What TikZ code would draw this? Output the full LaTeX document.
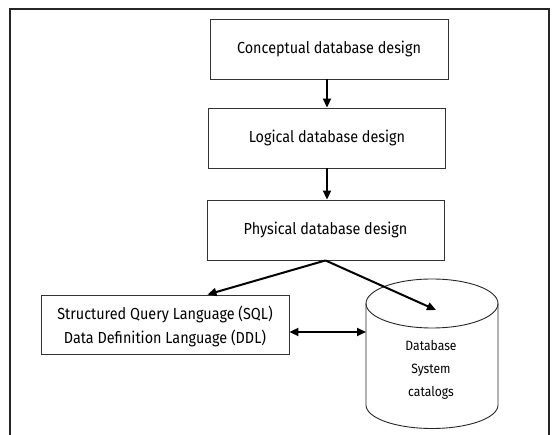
\documentclass[tikz,border=0pt]{standalone}
\usepackage{fontspec}
\setmainfont[FakeStretch=0.9]{Fira Sans}
\usetikzlibrary{arrows.meta}
\tikzset{
  frameline/.style={line width=2pt, draw=black!85},
  stagebox/.style={draw=black!80, line width=0.9pt, minimum height=60pt, inner sep=0pt, font=\fontsize{16}{19}\selectfont},
  flow/.style={line width=2pt, -{Triangle[length=9pt,width=8pt]}},
  twoway/.style={line width=2pt, {Triangle[length=9pt,width=8pt]}-{Triangle[length=9pt,width=8pt]}},
  drum/.style={draw=black!85, line width=0.9pt},
}
\begin{document}
\begin{tikzpicture}[x=1pt,y=-1pt]
\useasboundingbox (0,0) rectangle (558,435);
% outer frame, open at the bottom edge
\draw[frameline] (10,435) -- (10,9) -- (549,9) -- (549,435);

% design stages
\node[stagebox, minimum width=238pt] (concept) at (329,49) {Conceptual database design};
\node[stagebox, minimum width=237pt] (logical) at (327,138) {Logical database design};
\node[stagebox, minimum width=237pt] (physical) at (325.5,230) {Physical database design};

% language box
\node[stagebox, minimum width=248pt, minimum height=59pt] (sql) at (165,324.5) {};
\node[align=center, font=\fontsize{16}{24}\selectfont] (sqltext) at ([yshift=-2pt]sql.center)
  {Structured Query Language (SQL)\\Data Definition Language (DDL)};

% system catalog drum
\draw[drum] (432,303.5) ellipse [x radius=66, y radius=24.5];
\draw[drum] (366,303.5) -- (366,405) arc[start angle=180, end angle=360, x radius=66, y radius=-23.5] -- (498,303.5);
\node[align=center, font=\fontsize{13.5}{23}\selectfont] (catalog) at (431,370) {Database\\System\\catalogs};
\coordinate (drumtop) at (436,310);
\coordinate (drumside) at (366,332);

% connectors
\draw[flow] (concept.south -| logical.north) -- (logical.north);
\draw[flow] (logical.south) -- (physical.north -| logical.south);
\draw[flow] (physical.south) -- ([xshift=42.5pt]sql.north);
\draw[flow] (physical.south) -- (drumtop);
\draw[twoway] ([yshift=-7.5pt]sql.east) -- (drumside);
\end{tikzpicture}
\end{document}
